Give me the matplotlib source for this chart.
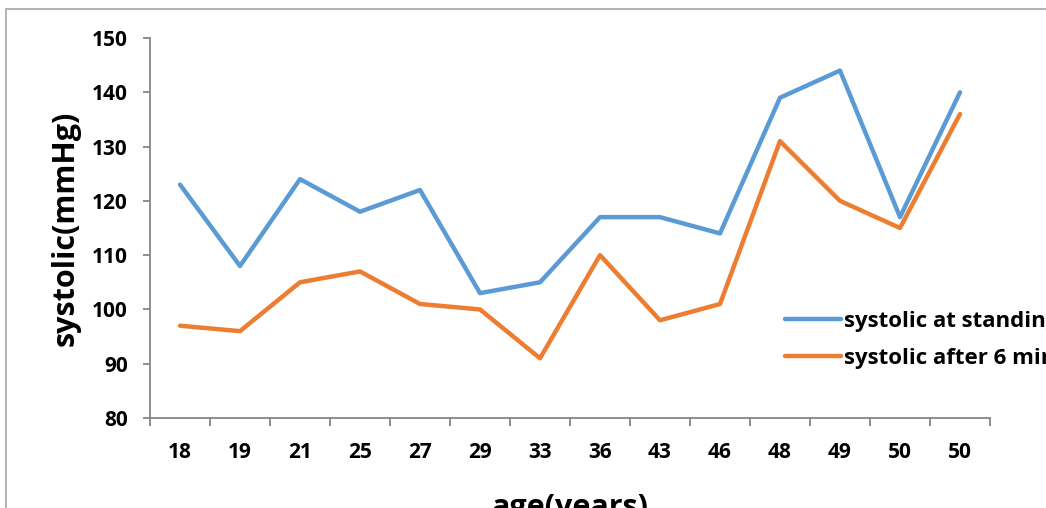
import numpy as np
import matplotlib.pyplot as plt
from matplotlib.patches import Rectangle

ages = ['18', '19', '21', '25', '27', '29', '33', '36', '43', '46', '48', '49', '50', '50']
standing = [123, 108, 124, 118, 122, 103, 105, 117, 117, 114, 139, 144, 117, 140]
after_6min = [97, 96, 105, 107, 101, 100, 91, 110, 98, 101, 131, 120, 115, 136]

plt.rcParams['font.family'] = ['Open Sans', 'DejaVu Sans']
plt.rcParams['font.weight'] = 'bold'

fig = plt.figure(figsize=(10.46, 5.08), dpi=100)
ax = fig.add_axes([150 / 1046, 1 - 418 / 508, 840 / 1046, 380 / 508])

# outer chart frame
fig.patches.append(Rectangle((6 / 1046, -0.1), 1.2, 1 - 9 / 508 + 0.1,
                             transform=fig.transFigure, fill=False,
                             edgecolor='#a6a6a6', linewidth=1.2))

x = np.arange(len(ages))
ax.plot(x, standing, color='#5b9bd5', linewidth=3.2, label='systolic at standing',
        solid_capstyle='round', solid_joinstyle='round')
ax.plot(x, after_6min, color='#ed7d31', linewidth=3.2, label='systolic after 6 min',
        solid_capstyle='round', solid_joinstyle='round')

ax.set_xlim(-0.5, len(ages) - 0.5)
ax.set_ylim(80, 150)
ax.set_yticks(range(80, 151, 10))
ax.set_xticks(x)
ax.set_xticklabels(ages)
ax.set_xticks(np.arange(-0.5, len(ages), 1), minor=True)

for s in ['top', 'right']:
    ax.spines[s].set_visible(False)
for s in ['left', 'bottom']:
    ax.spines[s].set_color('#868686')
    ax.spines[s].set_linewidth(1.3)

ax.tick_params(axis='y', length=5, width=1.3, color='#868686', pad=11,
               labelsize=15)
ax.tick_params(axis='x', which='major', length=0, pad=17, labelsize=15)
ax.tick_params(axis='x', which='minor', length=5.5, width=1.3, color='#868686')
for lbl in ax.get_xticklabels() + ax.get_yticklabels():
    lbl.set_fontweight('bold')

ax.set_ylabel('systolic(mmHg)', fontsize=22, fontweight='bold', labelpad=8)
ax.set_xlabel('age(years)', fontsize=22, fontweight='bold', labelpad=22)

ax.legend(loc='center left', bbox_to_anchor=(765 / 1046, 1 - 340 / 508),
          bbox_transform=fig.transFigure, frameon=False,
          handlelength=2.5, handletextpad=0.15, labelspacing=0.7,
          prop={'weight': 'bold', 'size': 16})

fig.savefig('out.png', dpi=100)
